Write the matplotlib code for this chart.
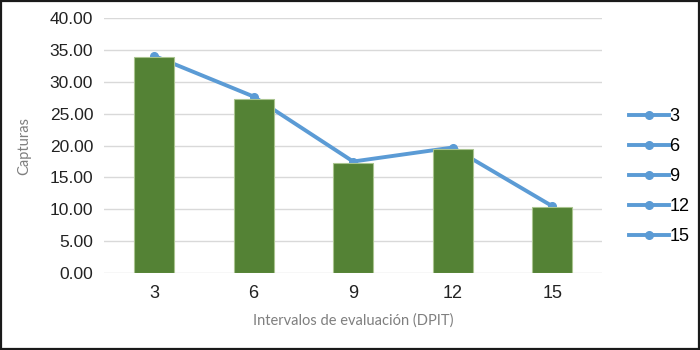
import matplotlib.pyplot as plt
import matplotlib.patches as mpatches
from matplotlib.lines import Line2D
import numpy as np

plt.rcParams['font.family'] = ['Liberation Sans', 'DejaVu Sans']

# Datos de capturas por intervalo
intervalos = ["3", "6", "9", "12", "15"]
capturas_barras = [33.9, 27.3, 17.2, 19.4, 10.3]
capturas_linea = [34.1, 27.7, 17.5, 19.7, 10.5]
marcas_y = [0, 5, 10, 15, 20, 25, 30, 35, 40]

verde = "#548235"
azul = "#5b9bd5"

fig = plt.figure(figsize=(7, 3.5), dpi=100)
ax = fig.add_axes([0.149, 0.22, 0.711, 0.728])

x = np.arange(len(intervalos))

ax.plot(x, capturas_linea, color=azul, linewidth=2.8, marker="o",
        markersize=5.5, zorder=2)
ax.bar(x, capturas_barras, width=0.4, color=verde, edgecolor="#a9c48f",
       linewidth=0.8, zorder=3)

ax.set_xlim(-0.5, len(intervalos) - 0.5)
ax.set_ylim(0, 40)
ax.set_yticks(marcas_y)
ax.set_yticklabels([f"{v:.2f}" for v in marcas_y], fontsize=12.5, color="#222222")
ax.set_xticks(x)
ax.set_xticklabels(intervalos, fontsize=13, color="#222222")
ax.tick_params(axis="both", length=0)
ax.tick_params(axis="x", pad=9)
ax.tick_params(axis="y", pad=8)

ax.grid(axis="y", color="#d9d9d9", linewidth=1, zorder=0)
ax.set_axisbelow(True)
for s in ax.spines.values():
    s.set_visible(False)

ax.set_ylabel("Capturas", fontsize=10.5, color="#7f7f7f", family="Lato", labelpad=4)
ax.yaxis.set_label_coords(-0.146, 0.5)
ax.set_xlabel("Intervalos de evaluación (DPIT)", fontsize=10.5, color="#7f7f7f",
              family="Lato", labelpad=8)

# Leyenda con una entrada por intervalo
handles = [Line2D([0], [0], color=azul, linewidth=2.8, marker="o", markersize=5.5)
           for _ in intervalos]
fig.legend(handles, intervalos, loc="center left", bbox_to_anchor=(0.888, 0.495),
           frameon=False, fontsize=13, handlelength=2.2, handletextpad=0.05,
           labelspacing=0.72, borderaxespad=0)

# Marco exterior
fig.patches.append(mpatches.Rectangle((0.002, 0.004), 0.996, 0.992,
                                      transform=fig.transFigure, fill=False,
                                      edgecolor="#1a1a1a", linewidth=1.6))

fig.savefig("out.png", dpi=100)
